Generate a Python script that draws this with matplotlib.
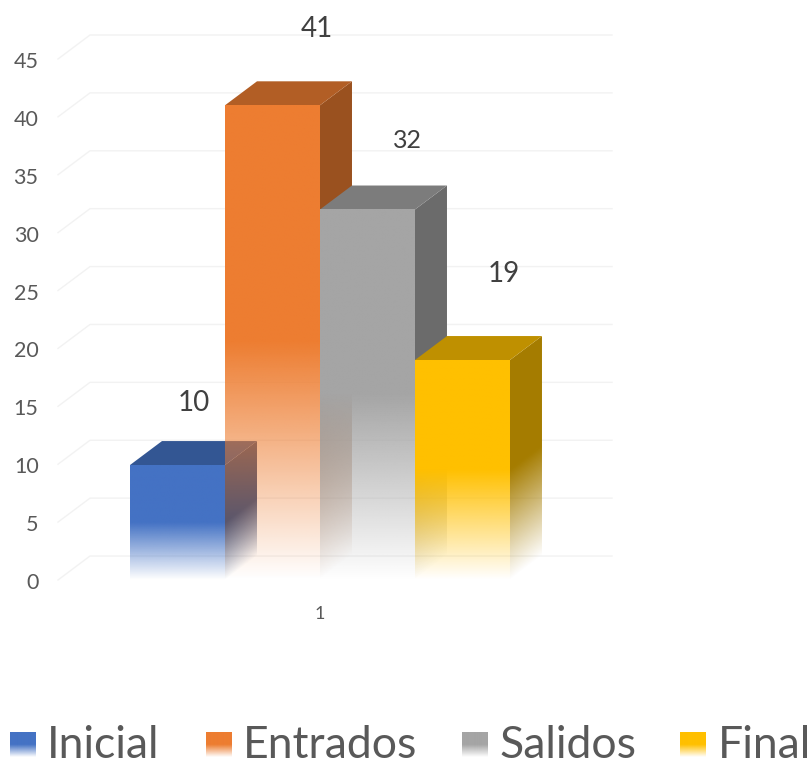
import matplotlib

matplotlib.use("Agg")
import matplotlib.pyplot as plt
import numpy as np
from matplotlib.colors import to_rgb
from matplotlib.patches import Polygon
from matplotlib.transforms import ScaledTranslation

CATEGORIES = ["Inicial", "Entrados", "Salidos", "Final"]
VALUES = [10, 41, 32, 19]
BAR_HEIGHTS = [9.93, 41.0, 32.0, 19.0]
COLORS = ["#4472C4", "#ED7D31", "#A5A5A5", "#FFC000"]
Y_TICKS = [0, 5, 10, 15, 20, 25, 30, 35, 40, 45]

# label offsets from the bar top centre, in pixels
LABEL_OFFSETS = [(16, 62), (44, 76), (40, 69), (41, 86)]
LABEL_SIZES = [20, 20, 18, 20]
LEGEND_SWATCH_X = [10, 206, 462, 680]
LEGEND_TEXT_X = [47, 243, 499, 718]

W, H = 812, 760
DEPTH_X = 32 / 95
DEPTH_Y = 2.07
TEXT = "#595959"

plt.rcParams["font.family"] = ["Lato", "DejaVu Sans"]


def _fade(t):
    # solid over the upper half, fades out to nothing at the base
    return np.clip(t / 0.5, 0, 1)


def _side_image(rgb, height, n=300):
    # alpha follows the skew of the side face
    y = np.linspace(0, height + DEPTH_Y, n)
    u = np.linspace(0, 1, 60)
    uu, yy = np.meshgrid(u, y)
    img = np.zeros((n, 60, 4))
    img[..., :3] = rgb
    img[..., 3] = _fade((yy - uu * DEPTH_Y) / height)
    return img


def _front_image(rgb, height, n=300):
    t = np.linspace(0, 1, n)
    img = np.zeros((n, 2, 4))
    img[..., :3] = rgb
    img[..., 3] = np.column_stack([_fade(t), _fade(t)])
    return img


def _draw_bar(ax, x, height, color, zorder):
    rgb = np.array(to_rgb(color))
    left, right = x - 0.5, x + 0.5

    side = ax.imshow(
        _side_image(rgb * 0.65, height), origin="lower", aspect="auto", interpolation="bilinear",
        extent=(right, right + DEPTH_X, 0, height + DEPTH_Y), zorder=zorder,
    )
    side.set_clip_path(Polygon(
        [(right, 0), (right + DEPTH_X, DEPTH_Y), (right + DEPTH_X, height + DEPTH_Y), (right, height)],
        transform=ax.transData,
    ))

    ax.fill(
        [left, right, right + DEPTH_X, left + DEPTH_X],
        [height, height, height + DEPTH_Y, height + DEPTH_Y],
        color=rgb * 0.75, linewidth=0, zorder=zorder,
    )

    ax.imshow(
        _front_image(rgb, height), origin="lower", aspect="auto", interpolation="bilinear",
        extent=(left, right, 0, height), zorder=zorder + 0.5,
    )


fig = plt.figure(figsize=(W / 100, H / 100), dpi=100)
ax = fig.add_axes([58 / W, (H - 580) / H, (612 - 58) / W, (580 - 35) / H])
xlim = (-1.258, 4.574)
ylim = (0, 47.07)
for spine in ax.spines.values():
    spine.set_visible(False)
ax.patch.set_visible(False)

x0, x1 = xlim
for tick in Y_TICKS:
    ax.plot([x0, x0 + DEPTH_X, x1], [tick, tick + DEPTH_Y, tick + DEPTH_Y],
            color="#F2F2F2", linewidth=1, zorder=1, clip_on=False)

positions = np.arange(len(VALUES))
for i, (pos, height, color) in enumerate(zip(positions, BAR_HEIGHTS, COLORS)):
    _draw_bar(ax, pos, height, color, zorder=2 + i)
ax.set_xlim(*xlim)
ax.set_ylim(*ylim)

for pos, height, value, offset, size in zip(positions, BAR_HEIGHTS, VALUES, LABEL_OFFSETS, LABEL_SIZES):
    ax.annotate(str(value), (pos, height), xytext=offset, textcoords="offset pixels",
                ha="center", va="center", fontsize=size, color="#404040",
                annotation_clip=False, zorder=10)

ax.set_yticks(Y_TICKS, [str(t) for t in Y_TICKS])
ax.set_xticks([1.5], ["1"])
ax.tick_params(axis="y", length=0, pad=14, labelsize=15.5, labelcolor=TEXT)
ax.tick_params(axis="x", length=0, pad=19, labelsize=13, labelcolor=TEXT)
nudge = ScaledTranslation(0, -1 / 100, fig.dpi_scale_trans)
for label in ax.get_yticklabels():
    label.set_transform(label.get_transform() + nudge)

# legend along the bottom edge, axes in pixel units
leg = fig.add_axes([0, 0, 1, 50 / H])
leg.axis("off")
for sx, tx, name, color in zip(LEGEND_SWATCH_X, LEGEND_TEXT_X, CATEGORIES, COLORS):
    leg.imshow(_front_image(np.array(to_rgb(color)), 1), origin="lower", aspect="auto",
               interpolation="bilinear", extent=(sx, sx + 26, 757, 732))
    leg.text(tx, 758, name, fontsize=32, color=TEXT, ha="left", va="baseline", clip_on=False)
leg.set_xlim(0, W)
leg.set_ylim(760, 710)

fig.savefig("out.png", dpi=100)
